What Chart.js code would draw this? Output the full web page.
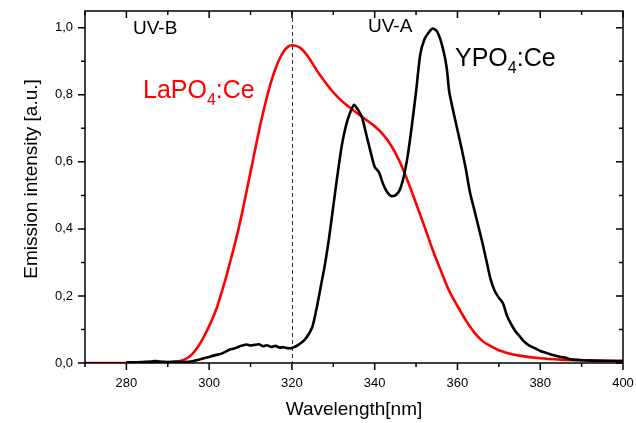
<!DOCTYPE html>
<html>
<head>
<meta charset="utf-8">
<script src="https://cdn.jsdelivr.net/npm/chart.js@4.4.1/dist/chart.umd.min.js"></script>
<style>
  html, body { margin: 0; padding: 0; background: #fff; }
  #wrap { width: 636px; height: 423px; position: relative; }
</style>
</head>
<body>
<div id="wrap"><canvas id="canvas"></canvas></div>
<script>
// tick positions (nm / a.u.)
const xTicks = [270, 280, 290, 300, 310, 320, 330, 340, 350, 360, 370, 380, 390, 400];
const yTicks = [0, 0.1, 0.2, 0.3, 0.4, 0.5, 0.6, 0.7, 0.8, 0.9, 1.0];
const uvBoundary = 320;

// YPO4:Ce emission
const ypoWave = [280, 282, 284, 286, 287, 288, 290, 292, 294, 296, 297.5, 299, 300, 301, 302, 303, 304, 305, 306, 307, 308, 309,
  310, 311, 312, 313, 314, 315, 316, 317, 318, 319, 320, 321, 322, 323, 324, 325, 326, 327, 328, 329,
  330, 331, 332, 333, 334, 335, 336, 337, 338, 339, 340, 341, 342, 343, 344, 345, 346, 347, 348, 349,
  350, 351, 352, 353, 354, 355, 356, 357, 357.5, 358, 359, 360, 361, 362, 363, 364, 365, 366, 367, 368, 369,
  370, 371, 372, 373, 374, 375, 376, 377, 378, 379, 380, 381, 382, 383, 384, 385, 386, 387, 388, 390, 392, 396, 400];
const ypoInt = [0.002, 0.002, 0.003, 0.004, 0.006, 0.004, 0.003, 0.004, 0.003, 0.005, 0.010, 0.015, 0.018, 0.022, 0.025, 0.028, 0.034, 0.040, 0.043, 0.048, 0.052, 0.055,
  0.052, 0.054, 0.056, 0.050, 0.053, 0.048, 0.051, 0.046, 0.047, 0.044, 0.045, 0.050, 0.058, 0.068, 0.085, 0.110, 0.165, 0.230, 0.295, 0.375,
  0.468, 0.560, 0.645, 0.705, 0.745, 0.770, 0.755, 0.730, 0.680, 0.630, 0.585, 0.570, 0.535, 0.510, 0.498, 0.500, 0.515, 0.555, 0.620, 0.710,
  0.810, 0.920, 0.965, 0.985, 0.998, 0.990, 0.960, 0.910, 0.870, 0.810, 0.750, 0.695, 0.640, 0.580, 0.510, 0.460, 0.410, 0.360, 0.305, 0.250, 0.215,
  0.195, 0.178, 0.140, 0.115, 0.095, 0.080, 0.065, 0.055, 0.048, 0.042, 0.036, 0.032, 0.028, 0.024, 0.021, 0.018, 0.016, 0.012, 0.010, 0.008, 0.007, 0.006, 0.006];

// LaPO4:Ce emission
const lapoWave = [270, 275, 280, 285, 290, 292, 293, 294, 295, 296, 297, 298, 299, 300, 301, 302, 303, 304, 305, 306, 307, 308, 309,
  310, 311, 312, 313, 314, 315, 316, 317, 318, 319, 320, 321, 322, 323, 324, 325, 326, 327, 328, 329,
  330, 332, 334, 336, 338, 340, 342, 344, 346, 348, 350, 352, 354, 356, 358, 360, 362, 364, 366, 368,
  370, 372, 375, 380, 385, 390, 395, 400];
const lapoInt = [0, 0, 0, 0, 0.001, 0.003, 0.006, 0.010, 0.017, 0.028, 0.043, 0.062, 0.085, 0.110, 0.138, 0.170, 0.210, 0.252, 0.298, 0.345, 0.395, 0.450, 0.510,
  0.570, 0.630, 0.690, 0.745, 0.795, 0.840, 0.877, 0.907, 0.929, 0.943, 0.948, 0.946, 0.940, 0.928, 0.912, 0.893, 0.873, 0.855, 0.838, 0.822,
  0.807, 0.782, 0.762, 0.743, 0.725, 0.706, 0.682, 0.648, 0.602, 0.542, 0.476, 0.408, 0.338, 0.275, 0.215, 0.170, 0.128, 0.092, 0.066, 0.050,
  0.038, 0.030, 0.022, 0.014, 0.010, 0.008, 0.007, 0.006];

const FONT = "'Liberation Sans', Arial, Helvetica, sans-serif";

function pairs(xs, ys) {
  return xs.map((x, i) => ({ x: x, y: ys[i] }));
}

// keep the plot box where layout.padding puts it
function fixScale(s, size) {
  if (s.isHorizontal()) s.height = size; else s.width = size;
  s.paddingTop = 0;
  s.paddingBottom = 0;
  s.paddingLeft = 0;
  s.paddingRight = 0;
}

// frame, tick marks, dashed UV boundary and the text labels
const decor = {
  id: 'decor',
  beforeDatasetsDraw(chart) {
    const { ctx, chartArea: a, scales: { x } } = chart;
    const px = Math.round(x.getPixelForValue(uvBoundary)) + 0.5;
    ctx.save();
    ctx.strokeStyle = '#333';
    ctx.lineWidth = 1;
    ctx.setLineDash([4, 3]);
    ctx.beginPath();
    ctx.moveTo(px, a.top);
    ctx.lineTo(px, a.bottom);
    ctx.stroke();
    ctx.restore();
  },
  afterDatasetsDraw(chart) {
    const { ctx, chartArea: a, scales: { x, y } } = chart;
    ctx.save();
    ctx.strokeStyle = '#000';
    ctx.lineWidth = 1.5;
    ctx.strokeRect(a.left, a.top, a.right - a.left, a.bottom - a.top);

    ctx.beginPath();
    xTicks.forEach(v => {
      const p = x.getPixelForValue(v);
      const len = v % 20 === 0 ? 7 : 4;
      ctx.moveTo(p, a.bottom);
      ctx.lineTo(p, a.bottom + len);
      ctx.moveTo(p, a.top);
      ctx.lineTo(p, a.top + len);
    });
    yTicks.forEach(v => {
      const p = y.getPixelForValue(v);
      const len = Math.round(v * 10) % 2 === 0 ? 7 : 4;
      ctx.moveTo(a.left, p);
      ctx.lineTo(a.left - len, p);
      ctx.moveTo(a.right, p);
      ctx.lineTo(a.right - len, p);
    });
    ctx.stroke();
    ctx.restore();
  },
  afterDraw(chart) {
    const { ctx } = chart;
    ctx.save();
    ctx.textBaseline = 'alphabetic';
    ctx.textAlign = 'left';

    ctx.fillStyle = '#000';
    ctx.font = '19px ' + FONT;
    ctx.fillText('UV-B', 133, 34);
    ctx.fillText('UV-A', 368, 32);

    const formula = (base, x0, y0, color) => {
      ctx.fillStyle = color;
      ctx.font = '25px ' + FONT;
      ctx.fillText(base, x0, y0);
      let cx = x0 + ctx.measureText(base).width;
      ctx.font = '16px ' + FONT;
      ctx.fillText('4', cx, y0 + 7);
      cx += ctx.measureText('4').width;
      ctx.font = '25px ' + FONT;
      ctx.fillText(':Ce', cx, y0);
    };
    formula('LaPO', 143, 98, '#ff0000');
    formula('YPO', 455, 66, '#000');

    // axis titles
    ctx.fillStyle = '#000';
    ctx.font = '19px ' + FONT;
    ctx.textAlign = 'center';
    ctx.textBaseline = 'middle';
    ctx.fillText('Wavelength[nm]', 354, 410);
    ctx.translate(32, 179);
    ctx.rotate(-Math.PI / 2);
    ctx.fillText('Emission intensity [a.u.]', 0, 0);
    ctx.restore();
  }
};

new Chart(document.getElementById('canvas').getContext('2d'), {
  type: 'line',
  data: {
    datasets: [{
      label: 'YPO4:Ce',
      data: pairs(ypoWave, ypoInt),
      borderColor: '#000',
      borderWidth: 2.6,
      pointRadius: 0,
      tension: 0.2,
      borderJoinStyle: 'round'
    }, {
      label: 'LaPO4:Ce',
      data: pairs(lapoWave, lapoInt),
      borderColor: '#ff0000',
      borderWidth: 2.6,
      pointRadius: 0,
      cubicInterpolationMode: 'monotone',
      borderJoinStyle: 'round'
    }]
  },
  options: {
    responsive: true,
    maintainAspectRatio: false,
    animation: false,
    layout: { padding: { left: 0, right: 13, top: 11, bottom: 0 } },
    plugins: {
      legend: { display: false },
      tooltip: { enabled: false }
    },
    scales: {
      x: {
        type: 'linear',
        min: 270,
        max: 400,
        grid: { display: false, drawTicks: false },
        border: { display: false },
        afterBuildTicks: s => { s.ticks = xTicks.map(v => ({ value: v })); },
        afterFit: s => fixScale(s, 60),
        ticks: {
          autoSkip: false,
          maxRotation: 0,
          padding: 13,
          color: '#000',
          font: { family: FONT, size: 13 },
          callback: v => (v % 20 === 0 && v >= 280 ? String(v) : '')
        }
      },
      y: {
        min: 0,
        max: 1.05,
        grid: { display: false, drawTicks: false },
        border: { display: false },
        afterBuildTicks: s => { s.ticks = yTicks.map(v => ({ value: v })); },
        afterFit: s => fixScale(s, 85),
        ticks: {
          autoSkip: false,
          padding: 12,
          color: '#000',
          font: { family: FONT, size: 13 },
          callback: v => (Math.round(v * 10) % 2 === 0 ? v.toFixed(1).replace('.', ',') : '')
        }
      }
    }
  },
  plugins: [decor]
});
</script>
</body>
</html>
